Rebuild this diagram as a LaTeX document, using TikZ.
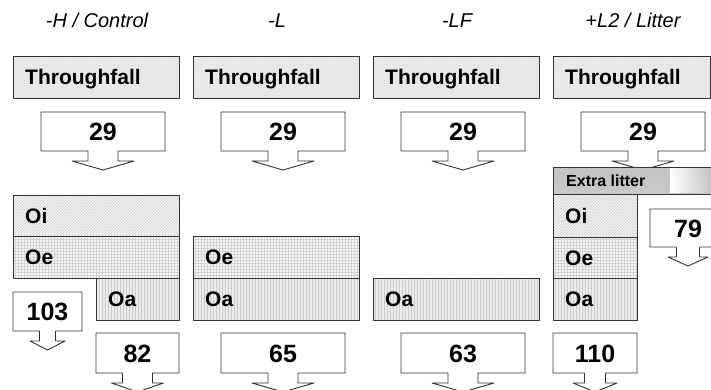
\documentclass[tikz,border=0pt]{standalone}
\usepackage{fontspec}
\setmainfont{Liberation Sans}
\usetikzlibrary{patterns,fadings}

\tikzset{
  frame/.style={draw=black!80, line width=0.9pt, line join=round},
  box/.style={frame, rectangle, inner sep=0pt, anchor=north west},
  tfbox/.style={box, minimum height=42pt, preaction={fill=gray!17}, pattern=dots, pattern color=gray!35},
  oibox/.style={box, preaction={fill=gray!8}, pattern=north east lines, pattern color=gray!42},
  oebox/.style={box, preaction={fill=gray!6}, pattern=grid, pattern color=gray!35},
  oabox/.style={box, preaction={fill=gray!14}, pattern=vertical lines, pattern color=gray!42},
  lbl/.style={font=\fontsize{21}{21}\selectfont\bfseries, inner sep=0pt, text height=15pt, text depth=0pt, anchor=west},
  small/.style={font=\fontsize{16}{16}\selectfont\bfseries, inner sep=0pt, text height=11.5pt, text depth=0pt, anchor=west},
  num/.style={font=\fontsize{25}{25}\selectfont\bfseries, inner sep=0pt, text height=18pt, text depth=0pt},
  hdr/.style={font=\fontsize{20}{20}\selectfont\itshape, inner sep=0pt, text height=14.3pt, text depth=0pt}
}

% flux box with a downward arrow:
% name, left, top, width, height, stem half-width, head half-width, value
\newcommand\fluxbox[8]{%
  \draw[frame, fill=white]
    (#2,#3) -- ({#2+#4},#3) -- ({#2+#4},{#3+#5})
    -- ({#2+#4/2+#6},{#3+#5}) -- ({#2+#4/2+#6},{#3+#5+10})
    -- ({#2+#4/2+#7},{#3+#5+10}) -- ({#2+#4/2},{#3+#5+19})
    -- ({#2+#4/2-#7},{#3+#5+10}) -- ({#2+#4/2-#6},{#3+#5+10})
    -- ({#2+#4/2-#6},{#3+#5}) -- (#2,{#3+#5}) -- cycle;
  \node[num] (#1) at ({#2+#4/2},{#3+#5/2}) {#8};
}

\begin{document}
\begin{tikzpicture}[x=1pt, y=-1pt]
\clip (0,0) rectangle (711,389);
\fill[white] (0,0) rectangle (711,389);

% treatment headings
\node[hdr] (h1) at (97,20) {-H / Control};
\node[hdr] (h2) at (277,20) {-L};
\node[hdr] (h3) at (457,20) {-LF};
\node[hdr] (h4) at (633,20) {+L2 / Litter};

% throughfall input
\node[tfbox, minimum width=166pt] (tf1) at (13,56) {};
\node[tfbox, minimum width=166pt] (tf2) at (193,56) {};
\node[tfbox, minimum width=166pt] (tf3) at (373,56) {};
\node[tfbox, minimum width=157pt] (tf4) at (553,56) {};
\node[lbl] (tf1t) at ([xshift=12pt]tf1.west) {Throughfall};
\node[lbl] (tf2t) at ([xshift=12pt]tf2.west) {Throughfall};
\node[lbl] (tf3t) at ([xshift=12pt]tf3.west) {Throughfall};
\node[lbl] (tf4t) at ([xshift=12pt]tf4.west) {Throughfall};

\fluxbox{in1}{41}{112}{124}{39}{15}{31}{29}
\fluxbox{in2}{221}{112}{124}{39}{15}{31}{29}
\fluxbox{in3}{401}{112}{124}{39}{15}{31}{29}
\fluxbox{in4}{581}{112}{124}{39}{15}{31}{29}

% column 1: full organic layer
\node[oibox, minimum width=166pt, minimum height=41pt] (oi1) at (13,195) {};
\node[oebox, minimum width=166pt, minimum height=42pt] (oe1) at (13,236) {};
\node[oabox, minimum width=83pt, minimum height=42pt] (oa1) at (96,278) {};
\node[lbl] (oi1t) at ([xshift=12pt]oi1.west) {Oi};
\node[lbl] (oe1t) at ([xshift=12pt]oe1.west) {Oe};
\node[lbl] (oa1t) at ([xshift=12pt]oa1.west) {Oa};

% column 2: Oi removed
\node[oebox, minimum width=166pt, minimum height=42pt] (oe2) at (193,236) {};
\node[oabox, minimum width=166pt, minimum height=42pt] (oa2) at (193,278) {};
\node[lbl] (oe2t) at ([xshift=12pt]oe2.west) {Oe};
\node[lbl] (oa2t) at ([xshift=12pt]oa2.west) {Oa};

% column 3: Oi and Oe removed
\node[oabox, minimum width=166pt, minimum height=42pt] (oa3) at (373,278) {};
\node[lbl] (oa3t) at ([xshift=12pt]oa3.west) {Oa};

% column 4: extra litter on top
\node[box, minimum width=175pt, minimum height=27pt, top color=gray!48, middle color=gray!14, bottom color=gray!42] (ex4) at (553,167) {};
\fill[white, path fading=east] (670,168) rectangle (711,193);
\node[small] (ex4t) at ([xshift=13pt]ex4.west) {Extra litter};
\node[oibox, minimum width=84pt, minimum height=43pt] (oi4) at (553,194) {};
\node[oebox, minimum width=84pt, minimum height=41pt] (oe4) at (553,237) {};
\node[oabox, minimum width=84pt, minimum height=42pt] (oa4) at (553,278) {};
\node[lbl] (oi4t) at ([xshift=12pt]oi4.west) {Oi};
\node[lbl] (oe4t) at ([xshift=12pt]oe4.west) {Oe};
\node[lbl] (oa4t) at ([xshift=12pt]oa4.west) {Oa};

% fluxes leaving the layers
\fluxbox{f103}{13}{292}{69}{39}{8}{17.5}{103}
\fluxbox{f79}{650}{209}{76}{38}{11.5}{20}{79}
\fluxbox{out1}{96}{333}{83}{40}{15}{26}{82}
\fluxbox{out2}{221}{333}{124}{40}{15}{31}{65}
\fluxbox{out3}{401}{333}{124}{40}{15}{31}{63}
\fluxbox{out4}{553}{333}{84}{40}{10.5}{22}{110}
\end{tikzpicture}
\end{document}
